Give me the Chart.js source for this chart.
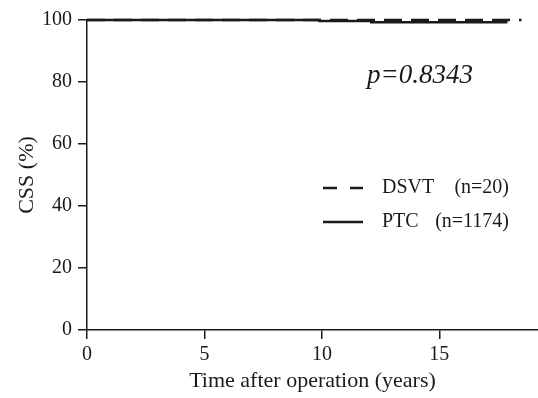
<!DOCTYPE html>
<html><head><meta charset="utf-8">
<script src="https://cdn.jsdelivr.net/npm/chart.js@4"></script>
<style>html,body{margin:0;padding:0;background:#fff}#wrap{width:538px;height:398px}</style>
</head><body><div id="wrap"><canvas id="c" width="538" height="398"></canvas></div>
<script>
const xTicks = [0, 5, 10, 15];
const yTicks = [0, 20, 40, 60, 80, 100];
const dsvtTime = [0, 18.5];
const dsvtCss = [100, 100];
const ptcTime = [0, 9.9, 12.1, 17.9];
const ptcCss = [100, 99.7, 99.3, 99.3];
const seriesNames = ['DSVT', 'PTC'];
const seriesN = ['(n=20)', '(n=1174)'];
const pText = 'p=0.8343';

const FONT = '"Liberation Serif", "DejaVu Serif", serif';

const overlay = {
  id: 'overlay',
  afterDraw(chart) {
    const ctx = chart.ctx;
    ctx.save();
    ctx.fillStyle = '#1a1a1a';
    ctx.font = 'italic 27px ' + FONT;
    ctx.textBaseline = 'middle';
    ctx.textAlign = 'left';
    ctx.fillText(pText, 367, 76);
    // legend
    ctx.font = '20px ' + FONT;
    const rows = [188, 222];
    seriesNames.forEach((name, i) => {
      const y = rows[i];
      ctx.strokeStyle = '#1a1a1a';
      ctx.lineWidth = 2.5;
      ctx.setLineDash(i === 0 ? [14, 13] : []);
      ctx.beginPath();
      ctx.moveTo(323, y); ctx.lineTo(363, y); ctx.stroke();
      ctx.setLineDash([]);
      ctx.textAlign = 'left';
      ctx.fillText(name, 382, y);
      ctx.textAlign = 'right';
      ctx.fillText(seriesN[i], 509, y);
    });
    ctx.restore();
  }
};

new Chart(document.getElementById('c'), {
  type: 'scatter',
  data: {
    datasets: [
      {
        label: seriesNames[1],
        data: ptcTime.map((t, i) => ({x: t, y: ptcCss[i]})),
        showLine: true, stepped: true, borderColor: '#1a1a1a', borderWidth: 2.5,
        pointRadius: 0, clip: false
      },
      {
        label: seriesNames[0],
        data: dsvtTime.map((t, i) => ({x: t, y: dsvtCss[i]})),
        showLine: true, stepped: true, borderColor: '#1a1a1a', borderWidth: 2.5,
        borderDash: [18, 9], pointRadius: 0, clip: false
      }
    ]
  },
  options: {
    responsive: false, animation: false,
    layout: {padding: {top: 20, right: 0, left: 0, bottom: 0}},
    plugins: {legend: {display: false}, tooltip: {enabled: false}},
    scales: {
      x: {
        type: 'linear', min: 0, max: 19.2,
        afterBuildTicks: s => { s.ticks = xTicks.map(v => ({value: v})); },
        afterFit: s => { s.height = 68; },
        border: {color: '#1a1a1a', width: 1.5},
        grid: {drawOnChartArea: false, drawTicks: true, tickLength: 9, color: '#1a1a1a', lineWidth: 1.5},
        ticks: {color: '#1a1a1a', font: {family: FONT, size: 20}, padding: 4, maxRotation: 0},
        title: {display: true, text: 'Time after operation (years)', color: '#1a1a1a', font: {family: FONT, size: 22}, padding: {top: 4, bottom: 4}}
      },
      y: {
        type: 'linear', min: 0, max: 100,
        afterBuildTicks: s => { s.ticks = yTicks.map(v => ({value: v})); },
        afterFit: s => { s.width = 87; },
        border: {color: '#1a1a1a', width: 1.5},
        grid: {drawOnChartArea: false, drawTicks: true, tickLength: 9, color: '#1a1a1a', lineWidth: 1.5},
        ticks: {color: '#1a1a1a', font: {family: FONT, size: 20}, padding: 6},
        title: {display: true, text: 'CSS (%)', color: '#1a1a1a', font: {family: FONT, size: 22}, padding: {top: 14, bottom: 0}}
      }
    }
  },
  plugins: [overlay]
});
</script></body></html>
